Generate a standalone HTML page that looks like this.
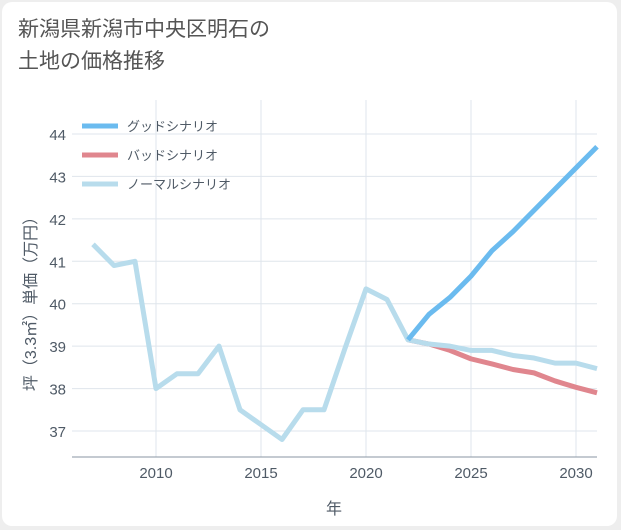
<!DOCTYPE html>
<html><head><meta charset="utf-8"><style>
body{margin:0;background:#eeeeee;font-family:"Liberation Sans","Noto Sans CJK JP",sans-serif;}
#card{position:absolute;left:2px;top:2px;width:615px;height:524px;background:#fff;border-radius:10px;}
#title{position:absolute;left:18px;top:14px;font-size:21px;line-height:32px;color:#555;}
</style></head><body>
<div id="card"></div>
<div id="title">新潟県新潟市中央区明石の<br>土地の価格推移</div>
<svg id="chart" width="621" height="530" style="position:absolute;left:0;top:0"></svg>
<script>
const years=[2007,2008,2009,2010,2011,2012,2013,2014,2015,2016,2017,2018,2019,2020,2021,2022,2023,2024,2025,2026,2027,2028,2029,2030,2031];
const normal=[41.4,40.9,41.0,38.0,38.35,38.35,39.0,37.5,37.15,36.8,37.5,37.5,38.95,40.35,40.1,39.15,39.05,39.0,38.9,38.9,38.78,38.72,38.6,38.6,38.47];
const goodYears=[2022,2023,2024,2025,2026,2027,2028,2029,2030,2031];
const good=[39.15,39.75,40.15,40.65,41.25,41.7,42.2,42.7,43.2,43.7];
const bad=[39.15,39.05,38.9,38.7,38.58,38.45,38.37,38.18,38.03,37.9];
const xTicks=[2010,2015,2020,2025,2030];
const yTicks=[37,38,39,40,41,42,43,44];
const L=72,R=597,T=100,B=457;
const x=v=>156+(v-2010)*21;
const y=v=>134+(44-v)*42.43;
const svg=document.getElementById('chart');
const NS='http://www.w3.org/2000/svg';
function mk(t,a){const e=document.createElementNS(NS,t);for(const k in a)e.setAttribute(k,a[k]);svg.appendChild(e);return e;}
xTicks.forEach(v=>{
 const g=mk('line',{x1:x(v),x2:x(v),y1:T,y2:B,stroke:'#dfe5ec','stroke-width':1});
 
 
 const t=mk('text',{x:x(v),y:478,'text-anchor':'middle','font-size':15,fill:'#4f5a66'});t.textContent=v;
 
 
});
yTicks.forEach(v=>{
 const g=mk('line',{x1:L,x2:R,y1:y(v),y2:y(v),stroke:'#dfe5ec','stroke-width':1});
 
 
 const t=mk('text',{x:66,y:y(v)+6,'text-anchor':'end','font-size':15,fill:'#4f5a66'});t.textContent=v;
 
 
});
const ax=mk('line',{x1:L,x2:R,y1:B,y2:B,stroke:'#8a96a3','stroke-width':1});


function line(xs,vs,col,name){
 const p=mk('polyline',{points:xs.map((yr,i)=>x(yr)+','+y(vs[i])).join(' '),fill:'none',stroke:col,'stroke-width':5,'stroke-linejoin':'round'});
 
 
}
line(goodYears,bad,'#e0868e','bad-scenario-line');
line(years,normal,'#b8dcec','normal-scenario-line');
line(goodYears,good,'#6bbbef','good-scenario-line');
const leg=[['グッドシナリオ','#6bbbef'],['バッドシナリオ','#e0868e'],['ノーマルシナリオ','#b8dcec']];
leg.forEach((d,i)=>{
 const yy=126+i*29;
 const l=mk('line',{x1:82,x2:118,y1:yy,y2:yy,stroke:d[1],'stroke-width':5});
 
 
 const t=mk('text',{x:127,y:yy+5,'font-size':13,fill:'#4f5a66'});t.textContent=d[0];
 
 
});
const xt=mk('text',{x:334,y:514,'text-anchor':'middle','font-size':16,fill:'#4f5a66'});xt.textContent='年';


const yt=mk('text',{x:0,y:0,'text-anchor':'middle','font-size':16,fill:'#4f5a66',transform:'translate(36,300) rotate(-90)'});yt.textContent='坪（3.3㎡）単価（万円）';


</script>
</body></html>
